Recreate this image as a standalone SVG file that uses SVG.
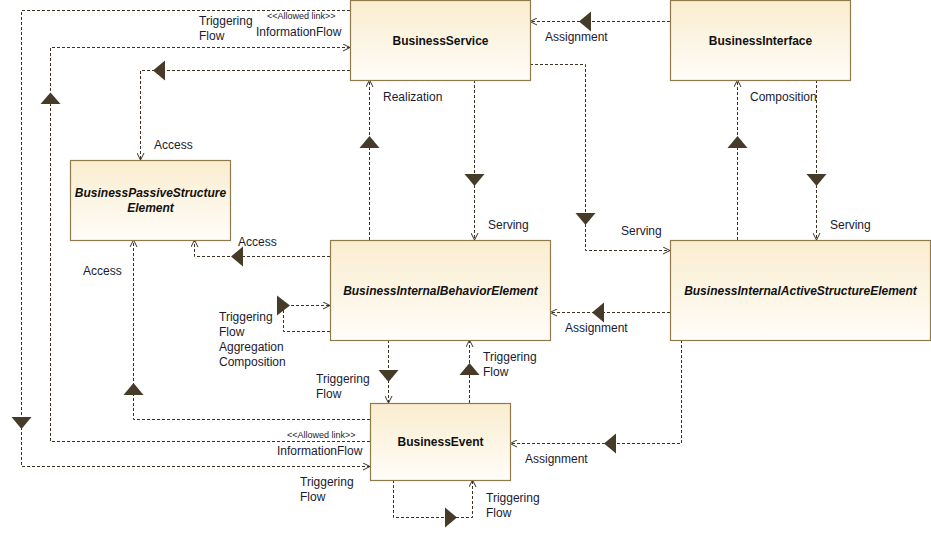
<svg xmlns="http://www.w3.org/2000/svg" width="931" height="540" viewBox="0 0 931 540">
<defs>
<linearGradient id="g" x1="0" y1="0" x2="0" y2="1">
<stop offset="0" stop-color="#FAEDCF"/>
<stop offset="1" stop-color="#FFFDF9"/>
</linearGradient>
<marker id="open" viewBox="0 0 8 8" refX="8" refY="4" markerWidth="8" markerHeight="8" markerUnits="userSpaceOnUse" orient="auto">
<path d="M1,0.5 L8,4 L1,7.5" fill="none" stroke="#3b3222" stroke-width="1"/>
</marker>
</defs>
<style>
.box{fill:url(#g);stroke:#8E7A4C;stroke-width:1.2}
.nt{font-family:"Liberation Sans",Arial,sans-serif;font-size:12px;font-weight:bold;fill:#111;text-anchor:middle}
.it{font-style:italic}
.ln{fill:none;stroke:#3b3222;stroke-width:1;stroke-dasharray:3,2;marker-end:url(#open)}
.tri{fill:#453B28}
.lb{font-family:"Liberation Sans",Arial,sans-serif;font-size:12px;fill:#1a1a30}
.sm{font-family:"Liberation Sans",Arial,sans-serif;font-size:9px;fill:#1a1a30}
</style>
<g id="connectors">
<path class="ln" d="M350,10.5 H21.5 V466.5 H370"/>
<polygon class="tri" points="11.5,417 31.5,417 21.5,429"/>
<path class="ln" d="M370,441.5 H50.5 V47.5 H350"/>
<polygon class="tri" points="40.5,104 60.5,104 50.5,92.5"/>
<path class="ln" d="M350,70.5 H140.5 V160"/>
<polygon class="tri" points="165,60.5 165,80.5 153,70.5"/>
<path class="ln" d="M330,256.5 H194.5 V240"/>
<polygon class="tri" points="243,246.5 243,266.5 231,256.5"/>
<path class="ln" d="M370,419.5 H133.5 V240"/>
<polygon class="tri" points="123.5,395 143.5,395 133.5,383"/>
<path class="ln" d="M369.5,240 V80"/>
<polygon class="tri" points="359.5,148 379.5,148 369.5,136"/>
<path class="ln" d="M474.5,80 V240"/>
<polygon class="tri" points="464.5,174 484.5,174 474.5,186"/>
<path class="ln" d="M530,64.5 H585.5 V250.5 H670"/>
<polygon class="tri" points="575.5,213 595.5,213 585.5,225"/>
<path class="ln" d="M670,21.5 H530"/>
<polygon class="tri" points="591,11.5 591,31.5 579,21.5"/>
<path class="ln" d="M737.5,240 V80"/>
<polygon class="tri" points="727.5,148 747.5,148 737.5,136"/>
<path class="ln" d="M816.5,80 V240"/>
<polygon class="tri" points="806.5,174 826.5,174 816.5,186"/>
<path class="ln" d="M670,312.5 H550"/>
<polygon class="tri" points="604,302.5 604,322.5 592,312.5"/>
<path class="ln" d="M681.5,340 V443.5 H510"/>
<polygon class="tri" points="616,433.5 616,453.5 604,443.5"/>
<path class="ln" d="M330,331.5 H283.5 V305.5 H330"/>
<polygon class="tri" points="277,295.5 277,315.5 290,305.5"/>
<path class="ln" d="M388.5,340 V403"/>
<polygon class="tri" points="378.5,370 398.5,370 388.5,382"/>
<path class="ln" d="M469.5,403 V340"/>
<polygon class="tri" points="459.5,375 479.5,375 469.5,363"/>
<path class="ln" d="M393.5,480 V517.5 H472.5 V480"/>
<polygon class="tri" points="445,507.5 445,527.5 457,517.5"/>
</g>
<g id="labels">
<text class="sm" x="267" y="18.5">&lt;&lt;Allowed link&gt;&gt;</text>
<text class="lb" x="199" y="25">Triggering</text>
<text class="lb" x="256" y="36">InformationFlow</text>
<text class="lb" x="199" y="40">Flow</text>
<text class="lb" x="545" y="41">Assignment</text>
<text class="lb" x="383" y="101">Realization</text>
<text class="lb" x="750" y="101">Composition</text>
<text class="lb" x="154" y="149">Access</text>
<text class="lb" x="488" y="228.5">Serving</text>
<text class="lb" x="830" y="229">Serving</text>
<text class="lb" x="621" y="235">Serving</text>
<text class="lb" x="238" y="246">Access</text>
<text class="lb" x="83" y="275">Access</text>
<text class="lb" x="219" y="321">Triggering</text>
<text class="lb" x="219" y="336">Flow</text>
<text class="lb" x="219" y="351">Aggregation</text>
<text class="lb" x="219" y="366">Composition</text>
<text class="lb" x="565" y="331.5">Assignment</text>
<text class="lb" x="483" y="361">Triggering</text>
<text class="lb" x="483" y="376">Flow</text>
<text class="lb" x="316" y="382.5">Triggering</text>
<text class="lb" x="316" y="397.5">Flow</text>
<text class="sm" x="287" y="437.5">&lt;&lt;Allowed link&gt;&gt;</text>
<text class="lb" x="277" y="455">InformationFlow</text>
<text class="lb" x="525" y="463">Assignment</text>
<text class="lb" x="300" y="486">Triggering</text>
<text class="lb" x="300" y="501">Flow</text>
<text class="lb" x="486" y="501.5">Triggering</text>
<text class="lb" x="486" y="516.5">Flow</text>
</g>
<g id="BusinessService">
<rect class="box" x="350.5" y="0.5" width="180" height="80"/>
<text class="nt" x="440.5" y="44.5">BusinessService</text>
</g>
<g id="BusinessInterface">
<rect class="box" x="670.5" y="0.5" width="180" height="80"/>
<text class="nt" x="760.5" y="44.5">BusinessInterface</text>
</g>
<g id="BusinessPassiveStructureElement">
<rect class="box" x="70.5" y="160.5" width="160" height="80"/>
<text class="nt it" x="150.5" y="197">BusinessPassiveStructure</text>
<text class="nt it" x="150.5" y="212">Element</text>
</g>
<g id="BusinessInternalBehaviorElement">
<rect class="box" x="330.5" y="240.5" width="220" height="100"/>
<text class="nt it" x="440.5" y="295">BusinessInternalBehaviorElement</text>
</g>
<g id="BusinessInternalActiveStructureElement">
<rect class="box" x="670.5" y="240.5" width="260" height="100"/>
<text class="nt it" x="800.5" y="295">BusinessInternalActiveStructureElement</text>
</g>
<g id="BusinessEvent">
<rect class="box" x="370.5" y="403.5" width="140" height="77"/>
<text class="nt" x="440.5" y="446">BusinessEvent</text>
</g>
</svg>
